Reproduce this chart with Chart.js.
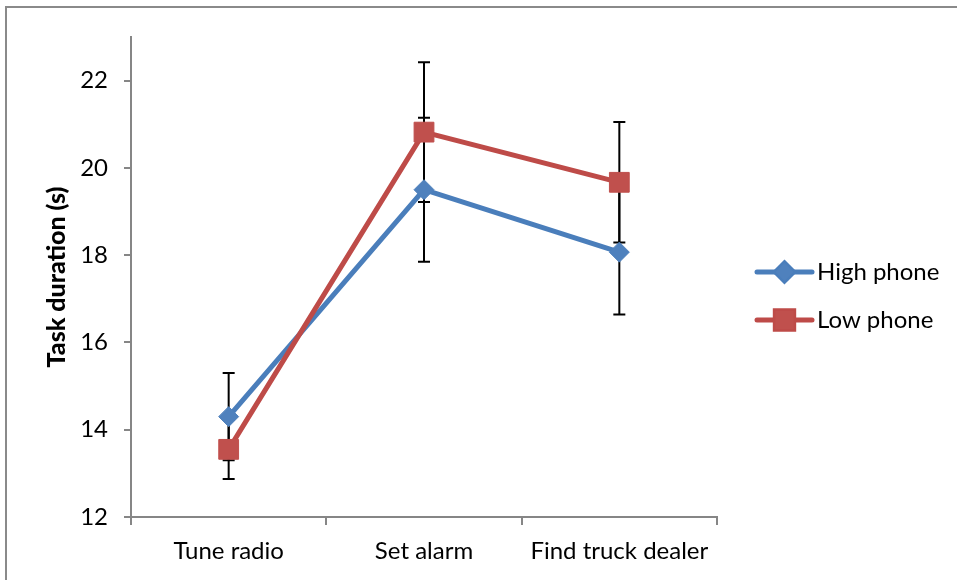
<!DOCTYPE html>
<html>
<head>
<meta charset="utf-8">
<script src="https://cdn.jsdelivr.net/npm/chart.js@4.4.1/dist/chart.umd.min.js"></script>
<style>
  html, body { margin: 0; padding: 0; background: #fff; }
  #wrap { position: relative; width: 957px; height: 580px; }
  #frame { position: absolute; left: 5px; top: 6px; width: 960px; height: 600px; border-left: 2px solid #8a8a8a; border-top: 2px solid #8a8a8a; box-sizing: border-box; }
  canvas { position: absolute; left: 0; top: 0; }
</style>
</head>
<body>
<div id="wrap">
  <div id="frame"></div>
  <canvas id="chart" width="957" height="580"></canvas>
</div>
<script>
const categories = ["Tune radio", "Set alarm", "Find truck dealer"];
const highPhone = [14.3, 19.5, 18.07];
const lowPhone = [13.55, 20.82, 19.67];
const highPhoneErr = [1.0, 1.65, 1.43];
const lowPhoneErr = [0.68, 1.6, 1.38];
const yTicks = [12, 14, 16, 18, 20, 22];

const FONT = "Lato";
const axisGray = "#868686";

// error bars, drawn under the lines and markers
const errorBars = {
  id: "errorBars",
  beforeDatasetsDraw(chart) {
    let ctx = chart.ctx;
    let y = chart.scales.y;
    ctx.save();
    ctx.strokeStyle = "#000";
    ctx.lineWidth = 2;
    chart.data.datasets.forEach((ds, di) => {
      let meta = chart.getDatasetMeta(di);
      ds.data.forEach((v, i) => {
        let x = meta.data[i].x;
        let top = y.getPixelForValue(v + ds.errors[i]);
        let bot = y.getPixelForValue(v - ds.errors[i]);
        ctx.beginPath();
        ctx.moveTo(x, top);
        ctx.lineTo(x, bot);
        ctx.moveTo(x - 6, top);
        ctx.lineTo(x + 6, top);
        ctx.moveTo(x - 6, bot);
        ctx.lineTo(x + 6, bot);
        ctx.stroke();
      });
    });
    ctx.restore();
  }
};

// Excel style legend: line with marker in the middle
const sideLegend = {
  id: "sideLegend",
  afterDraw(chart) {
    let ctx = chart.ctx;
    let area = chart.chartArea;
    let x0 = area.right + 40;
    let rows = [272, 320];
    ctx.save();
    chart.data.datasets.forEach((ds, i) => {
      let yy = rows[i];
      ctx.strokeStyle = ds.borderColor;
      ctx.lineWidth = 5;
      ctx.lineCap = "round";
      ctx.beginPath();
      ctx.moveTo(x0, yy);
      ctx.lineTo(x0 + 55, yy);
      ctx.stroke();
      Chart.helpers.drawPoint(ctx, {
        pointStyle: ds.pointStyle,
        radius: ds.pointRadius - 1,
        borderWidth: 1
      }, x0 + 27.5, yy);
      ctx.fillStyle = ds.pointBackgroundColor;
      ctx.fill();
      ctx.fillStyle = "#000";
      ctx.font = "24px " + FONT;
      ctx.textBaseline = "middle";
      ctx.fillText(ds.label, x0 + 60, yy);
    });
    ctx.restore();
  }
};

new Chart(document.getElementById("chart"), {
  type: "line",
  data: {
    labels: categories,
    datasets: [
      {
        label: "High phone",
        data: highPhone,
        errors: highPhoneErr,
        borderColor: "#4A7EBB",
        backgroundColor: "#4F81BD",
        pointBackgroundColor: "#4F81BD",
        pointBorderColor: "#4F81BD",
        borderWidth: 5,
        pointStyle: "rectRot",
        pointRadius: 10,
        pointBorderWidth: 1,
        order: 2
      },
      {
        label: "Low phone",
        data: lowPhone,
        errors: lowPhoneErr,
        borderColor: "#BE4B48",
        backgroundColor: "#C0504D",
        pointBackgroundColor: "#C0504D",
        pointBorderColor: "#C0504D",
        borderWidth: 5,
        pointStyle: "rect",
        pointRadius: 14,
        pointBorderWidth: 1,
        order: 1
      }
    ]
  },
  options: {
    responsive: false,
    animation: false,
    layout: { padding: { left: 0, top: 37, right: 240, bottom: 0 } },
    plugins: {
      legend: { display: false },
      tooltip: { enabled: false }
    },
    scales: {
      x: {
        offset: true,
        grid: { offset: true, drawOnChartArea: false, color: axisGray, tickLength: 8, lineWidth: 2 },
        border: { color: axisGray, width: 2 },
        ticks: { color: "#000", font: { family: FONT, size: 24 }, padding: 12, maxRotation: 0 },
        afterFit(scale) { scale.height = 63; }
      },
      y: {
        min: 12,
        max: 23,
        grid: { drawOnChartArea: false, color: axisGray, tickLength: 7, lineWidth: 2 },
        border: { color: axisGray, width: 2 },
        ticks: { color: "#000", font: { family: FONT, size: 24 }, padding: 16 },
        afterBuildTicks(scale) { scale.ticks = yTicks.map(v => ({ value: v })); },
        title: {
          display: true,
          text: "Task duration (s)",
          color: "#000",
          font: { family: FONT, size: 25, weight: "900" },
          padding: { top: 42, bottom: 0 }
        },
        afterFit(scale) { scale.width = 131; }
      }
    }
  },
  plugins: [errorBars, sideLegend]
});
</script>
</body>
</html>
